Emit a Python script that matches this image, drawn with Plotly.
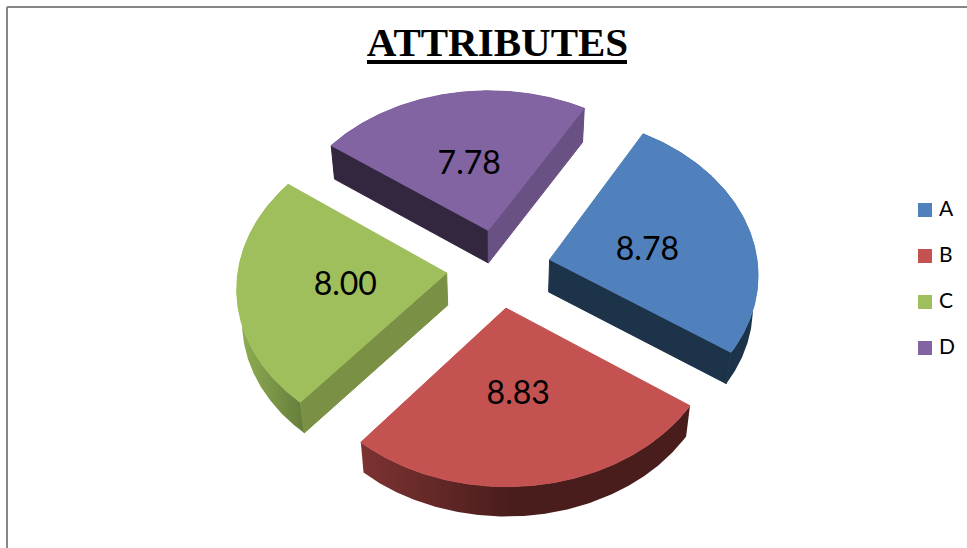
import numpy as np
import plotly.graph_objects as go

categories = ["A", "B", "C", "D"]
values = [8.78, 8.83, 8.00, 7.78]
top_colors = ["#5081BD", "#C35250", "#9FBE5C", "#8264A3"]
radial_start_colors = [None, None, "#7A9145", "#33273F"]
radial_end_colors = ["#1D3349", None, None, "#6A5184"]
outer_wall_colors = [("#1D3349", "#1D3349"), ("#7C3331", "#4A1D1D"),
                     ("#8FAE52", "#657C3B"), ("#33273F", "#33273F")]
outer_wall_grad = [(550, 760), (361, 510), (240, 305), (330, 585)]
draw_order = [3, 0, 2, 1]
label_dx = [-2, -3, 3, 1]
label_dy = [9, 3, 4, 7]

# pie view: centre, radii, perspective, first angle, explosion, thickness
CX, CY, FX, FY, PERSP = 498.77, 268.18, 208.26, 156.91, 0.0822
START_DEG, EXPLODE = -60.0, 0.2515
WALL_SCALE, WALL_VX = 0.98, 498.0
LABEL_R = 0.5


def project(x, y):
    w = 1 - PERSP * y
    return CX + FX * x / w, CY + FY * y / w


def extrude(sx, sy):
    return WALL_VX + (sx - WALL_VX) * WALL_SCALE, sy + 34 - 0.011 * (sy - 108)


fractions = np.array(values) / sum(values)
edges = np.radians(START_DEG) + np.concatenate([[0], np.cumsum(fractions)]) * 2 * np.pi

fig = go.Figure()


def poly(x, y, color, name, grad=None, rng=None, seam=False):
    if grad is not None and grad[0] != grad[1]:
        kw = dict(fillgradient=dict(type="horizontal", start=rng[0], stop=rng[1],
                                    colorscale=[[0, grad[0]], [1, grad[1]]]),
                  line=dict(width=0))
    else:
        c = color if color else grad[0]
        kw = dict(fillcolor=c, line=dict(width=1.0, color=c) if seam else dict(width=0))
    fig.add_trace(go.Scatter(x=np.r_[x, x[0]], y=np.r_[y, y[0]], mode="lines", fill="toself",
                             hoverinfo="skip", showlegend=False, name=name, **kw))


label_xy = []
slices = {}
for i in range(4):
    mid = (edges[i] + edges[i + 1]) / 2
    ax, ay = EXPLODE * np.cos(mid), EXPLODE * np.sin(mid)
    th = np.linspace(edges[i], edges[i + 1], 160)
    arc_x, arc_y = project(ax + np.cos(th), ay + np.sin(th))
    apex_x, apex_y = project(ax, ay)
    slices[i] = (arc_x, arc_y, float(apex_x), float(apex_y))
    lx, ly = project(ax + LABEL_R * np.cos(mid), ay + LABEL_R * np.sin(mid))
    label_xy.append((float(lx) + label_dx[i], float(ly) + label_dy[i]))

for i in draw_order:
    arc_x, arc_y, apex_x, apex_y = slices[i]
    bx, by = extrude(arc_x, arc_y)
    bax, bay = extrude(apex_x, apex_y)
    poly(np.r_[arc_x, bx[::-1]], np.r_[arc_y, by[::-1]], None, categories[i],
         grad=outer_wall_colors[i], rng=outer_wall_grad[i], seam=False)
    if radial_start_colors[i]:
        poly(np.array([apex_x, arc_x[0], bx[0], bax]), np.array([apex_y, arc_y[0], by[0], bay]),
             radial_start_colors[i], categories[i], seam=True)
    if radial_end_colors[i]:
        poly(np.array([apex_x, arc_x[-1], bx[-1], bax]), np.array([apex_y, arc_y[-1], by[-1], bay]),
             radial_end_colors[i], categories[i], seam=True)
    poly(np.r_[apex_x, arc_x], np.r_[apex_y, arc_y], top_colors[i], categories[i], seam=True)

fig.add_trace(go.Scatter(
    x=[p[0] for p in label_xy], y=[p[1] for p in label_xy], mode="text",
    text=[f"{v:.2f}" for v in values], textposition="middle center",
    textfont=dict(family="Lato", size=32, color="#000000"), hoverinfo="skip", showlegend=False))

legend_y = [210, 256, 302, 348]
fig.add_trace(go.Scatter(
    x=[925] * 4, y=legend_y, mode="markers",
    marker=dict(symbol="square", size=14, color=top_colors, line=dict(width=0)),
    hoverinfo="skip", showlegend=False))
fig.add_trace(go.Scatter(
    x=[939] * 4, y=[y + 1 for y in legend_y], mode="text", text=categories, textposition="middle right",
    textfont=dict(family="Lato", size=21, color="#000000"), hoverinfo="skip", showlegend=False))

fig.update_layout(
    width=967, height=548, margin=dict(l=0, r=0, t=0, b=0),
    paper_bgcolor="white", plot_bgcolor="white", showlegend=False,
    title=dict(text="<b>ATTRIBUTES</b>", x=497.5 / 967, xanchor="center", xref="paper",
               y=1 - 42 / 548, yanchor="middle", yref="container",
               font=dict(family="Liberation Serif", size=41, color="#000000")),
    xaxis=dict(range=[0, 967], visible=False, fixedrange=True),
    yaxis=dict(range=[548, 0], visible=False, fixedrange=True),
    shapes=[
        dict(type="rect", xref="x", yref="y", x0=367, x1=627, y0=60, y1=64,
             fillcolor="#000000", line=dict(width=0)),
        dict(type="line", xref="x", yref="y", x0=7, x1=967, y0=7, y1=7,
             line=dict(color="#868686", width=2)),
        dict(type="line", xref="x", yref="y", x0=7, x1=7, y0=7, y1=548,
             line=dict(color="#868686", width=2)),
    ],
)
fig.write_html("out.html", config=dict(displayModeBar=False),
               post_script="document.body.style.margin='0';document.documentElement.style.overflow='hidden';")
